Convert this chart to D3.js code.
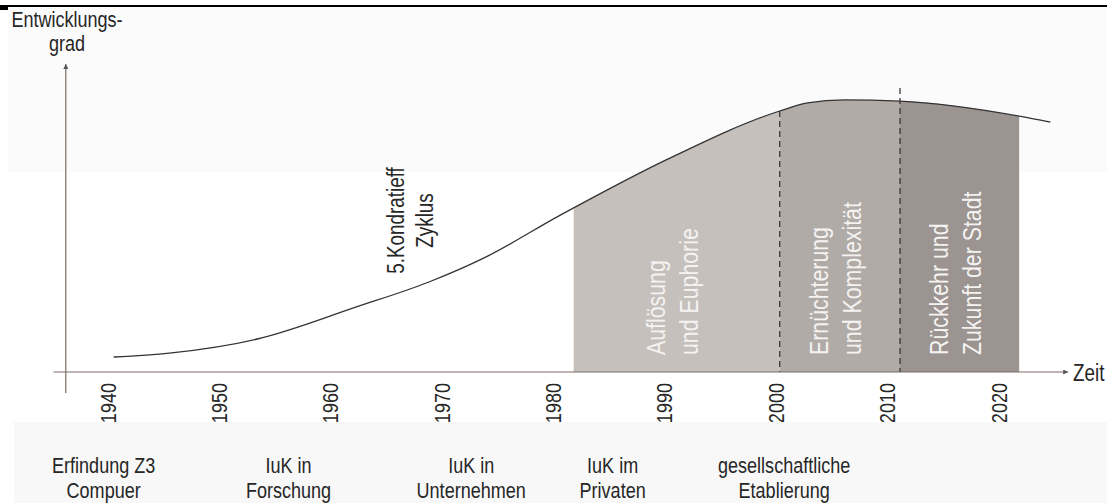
<!DOCTYPE html>
<html>
<head>
<meta charset="utf-8">
<script src="https://cdn.jsdelivr.net/npm/d3@7"></script>
<style>
  body { margin: 0; background: #fff; }
  svg text { font-family: "Liberation Sans", Arial, sans-serif; fill: #262626; }
</style>
</head>
<body>
<div id="chart"></div>
<script>
// tick years on the time axis
var years = [1940, 1950, 1960, 1970, 1980, 1990, 2000, 2010, 2020];

// development curve (5. Kondratieff)
var curveYears  = [1940.6, 1945.6, 1953.5, 1962.4, 1968.9, 1974.0, 1980.7, 1981.9, 1990.2, 2000.4, 2002.9, 2006.2, 2011.2, 2021.9, 2024.7];
var curveValues = [5, 6.3, 11, 21.7, 30, 38.3, 52.3, 54.7, 70.7, 87, 89.7, 90.7, 90.3, 85.3, 83.3];

// phases
var phaseStart  = [1981.9, 2000.4, 2011.2];
var phaseEnd    = [2000.4, 2011.2, 2021.9];
var phaseLine1  = ["Auflösung", "Ernüchterung", "Rückkehr und"];
var phaseLine2  = ["und Euphorie", "und Komplexität", "Zukunft der Stadt"];
var phaseColors = ["#c6c0bc", "#b1aba7", "#9b9490"];

// milestones below the axis
var milestoneYears = [1939.7, 1956.3, 1972.7, 1985.4, 2000.8];
var milestoneLine1 = ["Erfindung Z3", "IuK in", "IuK in", "IuK im", "gesellschaftliche"];
var milestoneLine2 = ["Compuer", "Forschung", "Unternehmen", "Privaten", "Etablierung"];

var width = 1112, height = 503
    , narrow = 0.82;   // the scan uses a condensed face

var xScale = d3.scaleLinear().domain([1940, 2020]).range([107, 998]);
var yScale = d3.scaleLinear().domain([0, 100]).range([372, 72]);

var svg = d3.select("#chart").append("svg")
    .attr("width", width)
    .attr("height", height);

// condensed text helper
function label(parent, x, y, str, size, anchor, angle) {
    return parent.append("text")
        .attr("transform", "translate(" + x + "," + y + ") rotate(" + (angle || 0) + ") scale(" + narrow + ",1)")
        .attr("text-anchor", anchor || "start")
        .style("font-size", size + "px")
        .text(str);
}

// scan background band
svg.append("rect").attr("x", 8).attr("y", 8).attr("width", 1099).attr("height", 164).style("fill", "#fbfbfb");

// top rule of the page
svg.append("line")
    .attr("x1", 0).attr("x2", 1107).attr("y1", 6).attr("y2", 6)
    .style("stroke", "#000").style("stroke-width", 2);
svg.append("rect").attr("x", 0).attr("y", 5).attr("width", 8).attr("height", 5).style("fill", "#000");

var defs = svg.append("defs");
defs.append("marker")
    .attr("id", "arrow")
    .attr("viewBox", "0 0 10 10")
    .attr("refX", 10).attr("refY", 5)
    .attr("markerWidth", 7).attr("markerHeight", 5)
    .attr("markerUnits", "userSpaceOnUse")
    .attr("orient", "auto")
  .append("path")
    .attr("d", "M0,0L10,5L0,10Z")
    .style("fill", "#555");

var pts = curveYears.map(function(d, i) { return [d, curveValues[i]]; });

var line = d3.line()
    .x(function(d) { return xScale(d[0]); })
    .y(function(d) { return yScale(d[1]); })
    .curve(d3.curveMonotoneX);

var area = d3.area()
    .x(function(d) { return xScale(d[0]); })
    .y0(yScale(0))
    .y1(function(d) { return yScale(d[1]); })
    .curve(d3.curveMonotoneX);

// phase areas, each clipped from the area under the curve
phaseStart.forEach(function(s, i) {
    defs.append("clipPath").attr("id", "phase" + i)
      .append("rect")
        .attr("x", xScale(s))
        .attr("y", 0)
        .attr("width", xScale(phaseEnd[i]) - xScale(s))
        .attr("height", yScale(0));
    svg.append("path")
        .datum(pts)
        .attr("d", area)
        .attr("clip-path", "url(#phase" + i + ")")
        .style("fill", phaseColors[i]);
});

// dashed separators
svg.append("line")
    .attr("x1", xScale(phaseEnd[0])).attr("x2", xScale(phaseEnd[0]))
    .attr("y1", yScale(87)).attr("y2", yScale(0))
    .style("stroke", "#2e2e2e").style("stroke-width", 1.2).style("stroke-dasharray", "6,4");
svg.append("line")
    .attr("x1", xScale(phaseEnd[1])).attr("x2", xScale(phaseEnd[1]))
    .attr("y1", yScale(94.7)).attr("y2", yScale(0))
    .style("stroke", "#2e2e2e").style("stroke-width", 1.2).style("stroke-dasharray", "6,4");

// the curve
svg.append("path")
    .datum(pts)
    .attr("d", line)
    .style("fill", "none")
    .style("stroke", "#333")
    .style("stroke-width", 1.3);

// phase labels (rotated, reading upwards)
phaseStart.forEach(function(s, i) {
    var cx = (xScale(s) + xScale(phaseEnd[i])) / 2;
    label(svg, cx - 12, 355, phaseLine1[i], 26, "start", -90).style("fill", "#f5f3f1");
    label(svg, cx + 21, 355, phaseLine2[i], 26, "start", -90).style("fill", "#f5f3f1");
});

// Kondratieff label
label(svg, xScale(1966.9) - 3, yScale(50.5), "5.Kondratieff", 23, "middle", -90);
label(svg, xScale(1966.9) + 26, yScale(50.5), "Zyklus", 23, "middle", -90);

// axes lines with arrows
svg.append("line")
    .attr("x1", xScale(1935.2)).attr("x2", xScale(2026.3))
    .attr("y1", yScale(0)).attr("y2", yScale(0))
    .attr("marker-end", "url(#arrow)")
    .style("stroke", "#7a6c64").style("stroke-width", 1.2);
svg.append("line")
    .attr("x1", xScale(1936.3)).attr("x2", xScale(1936.3))
    .attr("y1", yScale(-7)).attr("y2", yScale(102.7))
    .attr("marker-end", "url(#arrow)")
    .style("stroke", "#7a6c64").style("stroke-width", 1.2);

// tick labels from the axis generator, rotated
var xAxis = d3.axisBottom(xScale)
    .tickValues(years)
    .tickSize(0)
    .tickFormat(d3.format("d"));

var axisG = svg.append("g")
    .attr("transform", "translate(0," + yScale(0) + ")")
    .call(xAxis);
axisG.select(".domain").remove();
axisG.selectAll("text")
    .attr("transform", "translate(8,11) rotate(-90) scale(" + narrow + ",1)")
    .attr("x", 0)
    .attr("y", 0)
    .attr("dy", 0)
    .attr("text-anchor", "end")
    .style("font-family", "'Liberation Sans', Arial, sans-serif")
    .style("font-size", "22px")
    .style("fill", "#262626");

// lower scan band covers the label ends
svg.append("rect").attr("x", 14).attr("y", 422).attr("width", 1093).attr("height", 81).style("fill", "#f8f8f8");

// axis titles
label(svg, 67, 27, "Entwicklungs-", 22, "middle");
label(svg, 67, 51, "grad", 22, "middle");
label(svg, 1073, 381, "Zeit", 23, "start");

// milestones
milestoneYears.forEach(function(m, i) {
    label(svg, xScale(m), 473, milestoneLine1[i], 22, "middle");
    label(svg, xScale(m), 498, milestoneLine2[i], 22, "middle");
});
</script>
</body>
</html>
